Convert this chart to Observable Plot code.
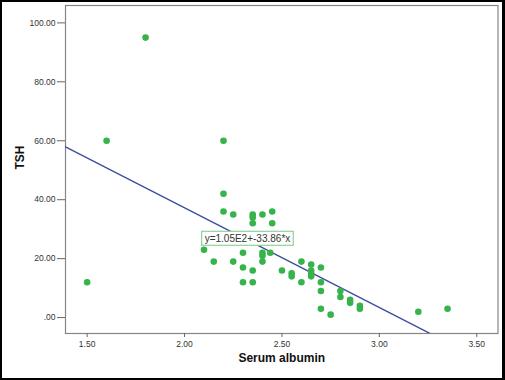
<!DOCTYPE html>
<html>
<head>
<meta charset="utf-8">
<script src="https://cdn.jsdelivr.net/npm/d3@7"></script>
<script src="https://cdn.jsdelivr.net/npm/@observablehq/plot@0.6"></script>
<style>
  html, body { margin: 0; padding: 0; background: #fff; }
  #wrap { position: relative; width: 505px; height: 380px; overflow: hidden; }
  #wrap svg { display: block; }
  #border { position: absolute; left: 0; top: 0; right: 0; bottom: 0;
            border-style: solid; border-color: #000; border-width: 2px 3px 2px 2px; pointer-events: none; }
</style>
</head>
<body>
<div id="wrap"><div id="border"></div></div>
<script>
const albumin = [1.50, 1.60, 1.80, 2.20, 2.20, 2.20, 2.25, 2.35, 2.35, 2.35, 2.40, 2.45, 2.45,
                 2.10, 2.15, 2.25, 2.30, 2.30, 2.30, 2.35, 2.35, 2.40, 2.40, 2.40, 2.44,
                 2.50, 2.55, 2.55, 2.60, 2.60, 2.65, 2.65, 2.65, 2.65, 2.70, 2.70, 2.70, 2.70,
                 2.75, 2.80, 2.80, 2.85, 2.85, 2.90, 2.90, 3.20, 3.35];
const tsh = [12, 60, 95, 60, 42, 36, 35, 35, 34, 32, 35, 36, 32,
             23, 19, 19, 22, 17, 12, 16, 12, 22, 21, 19, 22,
             16, 15, 14, 19, 12, 18, 16, 15, 14, 17, 12, 9, 3,
             1, 9, 7, 6, 5, 4, 3, 2, 3];

// Fit line reported on the chart: y = 1.05E2 + -33.86*x
const fitIntercept = 105;
const fitSlope = -33.86;
const fitLabel = ["y=1.05E2+-33.86*x"];

const xTicks = [1.5, 2.0, 2.5, 3.0, 3.5];
const xTickLabels = ["1.50", "2.00", "2.50", "3.00", "3.50"];
const yTicks = [0, 20, 40, 60, 80, 100];
const yTickLabels = [".00", "20.00", "40.00", "60.00", "80.00", "100.00"];
const xTitle = "Serum albumin";
const yTitle = "TSH";

const points = albumin.map((a, i) => ({albumin: a, tsh: tsh[i]}));
const xDomain = [1.389, 3.609];
const yDomain = [-5.4, 105.9];
const fitLine = xDomain.map(x => ({x, y: fitIntercept + fitSlope * x}));

const font = "'Liberation Sans', Arial, sans-serif";

const chart = Plot.plot({
  width: 505,
  height: 380,
  marginLeft: 65,
  marginRight: 7.5,
  marginTop: 5,
  marginBottom: 47,
  style: {fontFamily: font, background: "transparent", color: "#333"},
  x: {domain: xDomain},
  y: {domain: yDomain},
  marks: [
    Plot.frame({stroke: "#858585", strokeWidth: 1.2}),
    Plot.axisX({ticks: xTicks, tickFormat: (d) => xTickLabels[xTicks.indexOf(d)], tickSize: 4, tickPadding: 3,
                fontSize: 8.5, stroke: "#666", fill: "#333", label: null}),
    Plot.axisY({ticks: yTicks, tickFormat: (d) => yTickLabels[yTicks.indexOf(d)], tickSize: 8, tickPadding: 2,
                fontSize: 8.5, stroke: "#666", fill: "#333", label: null}),
    Plot.text([xTitle], {frameAnchor: "bottom", dy: 28, fontSize: 12, fontWeight: "bold", fill: "#111"}),
    Plot.text([yTitle], {frameAnchor: "left", rotate: -90, dx: -45, fontSize: 12, fontWeight: "bold", fill: "#111"}),
    Plot.line(fitLine, {x: "x", y: "y", stroke: "#3d4e9e", strokeWidth: 1.4, clip: true}),
    Plot.dot(points, {x: "albumin", y: "tsh", r: 3.3, fill: "#36b34a", stroke: "none"}),
    Plot.text(fitLabel, {x: 2.323, y: 26.8, fontSize: 10, fill: "#333"})
  ]
});

const wrap = document.getElementById("wrap");
wrap.insertBefore(chart, document.getElementById("border"));

// Draw the box behind the fit label
function boxLabel() {
  const texts = Array.from(chart.querySelectorAll("text"));
  const t = texts.find(n => (n.textContent || "").indexOf("33.86") >= 0);
  if (!t) return false;
  const bb = t.getBBox();
  let w = bb.width, h = bb.height;
  if (!(w > 0)) return false;
  const ns = "http://www.w3.org/2000/svg";
  const r = document.createElementNS(ns, "rect");
  r.setAttribute("x", bb.x - 3);
  r.setAttribute("y", bb.y - 1.5);
  r.setAttribute("width", w + 6);
  r.setAttribute("height", h + 3);
  r.setAttribute("fill", "#fff");
  r.setAttribute("stroke", "#8fd29c");
  r.setAttribute("stroke-width", "1.2");
  const tr = t.getAttribute("transform");
  if (tr) r.setAttribute("transform", tr);
  t.parentNode.insertBefore(r, t);
  return true;
}
if (!boxLabel()) {
  requestAnimationFrame(() => { boxLabel(); });
}
</script>
</body>
</html>
